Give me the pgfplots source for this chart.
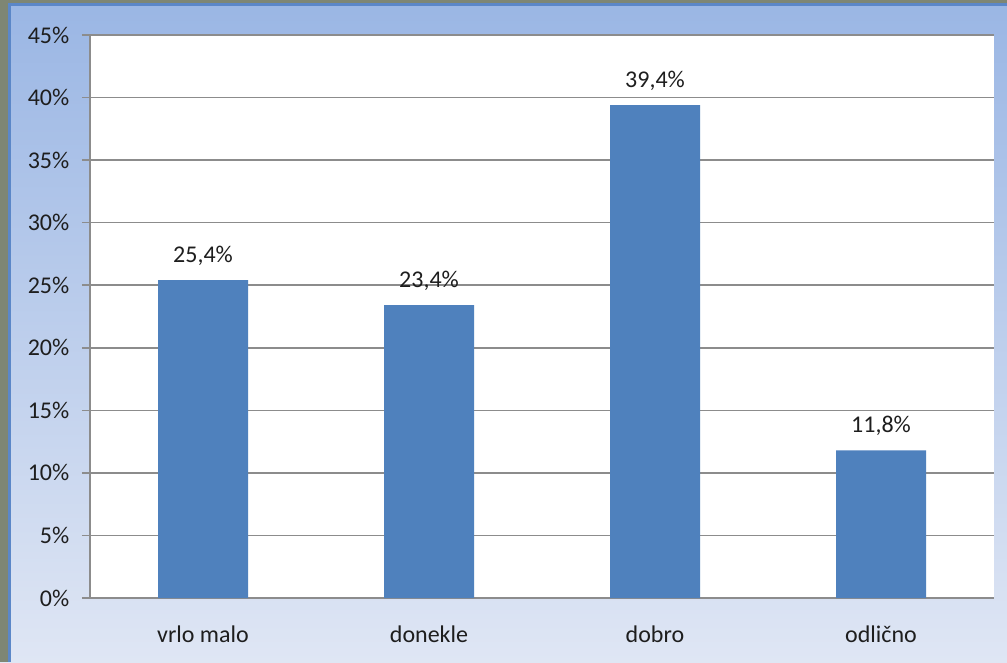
\documentclass[border=0pt]{standalone}
\usepackage{pgfplots}
\pgfplotsset{compat=1.18}
\usepackage{fontspec}
\setmainfont{Carlito}
\definecolor{bartop}{HTML}{4F81BD}
\definecolor{bgtop}{HTML}{9AB6E4}
\definecolor{bgbot}{HTML}{DFE6F4}
\definecolor{gridc}{HTML}{8C8C8C}
\definecolor{txt}{HTML}{1E1E1E}
\definecolor{frameg}{HTML}{7E8674}
\definecolor{frameb}{HTML}{5B87C8}
\begin{document}
\begin{tikzpicture}[x=0.75pt,y=0.75pt]
\shade[top color=bgtop,bottom color=bgbot] (0,0) rectangle (1007,662);
\fill[frameg] (0,0) rectangle (8,662);
\fill[frameg] (0,659) rectangle (1007,662);
\fill[frameb] (8,0) rectangle (10.5,659);
\fill[frameb] (8,655.5) rectangle (1007,659);
\begin{axis}[
  at={(67.5pt,48pt)}, anchor=south west,
  scale only axis, width=678pt, height=422.25pt,
  axis background/.style={fill=white},
  ymin=0, ymax=45, ytick={0,5,...,45},
  xmin=-0.5, xmax=3.5,
  xtick={0,1,2,3},
  xticklabels={vrlo malo,donekle,dobro,odlično},
  major x tick style={draw=none},
  extra x ticks={-0.5,0.5,1.5,2.5,3.5},
  extra x tick labels={},
  extra x tick style={major tick length=6pt, tick align=outside, grid=none, major tick style={draw=gridc, line width=1.1pt}},
  major y tick style={draw=gridc, line width=1.1pt},
  tick align=outside, major tick length=6pt,
  ymajorgrids, grid style={gridc, line width=1.1pt},
  axis x line*=bottom, axis y line*=left,
  axis line style={gridc, line width=1.1pt, -},
  /pgf/number format/assume math mode=true,
  yticklabel={\pgfmathprintnumber{\tick}\%},
  tick label style={font=\fontsize{18pt}{21pt}\selectfont, text=txt},
  xticklabel style={yshift=-11.5pt},
  yticklabel style={xshift=-6pt},
  ybar, bar width=67.5pt,
  nodes near coords={\pgfmathprintnumber[fixed,fixed zerofill,precision=1,use comma,assume math mode=true]{\pgfplotspointmeta}\%},
  nodes near coords style={font=\fontsize{18pt}{21pt}\selectfont, text=txt, yshift=7.5pt},
  clip=false,
]
\addplot[fill=bartop, draw=none] coordinates {(0,25.4) (1,23.4) (2,39.4) (3,11.8)};
\end{axis}
\end{tikzpicture}
\end{document}
